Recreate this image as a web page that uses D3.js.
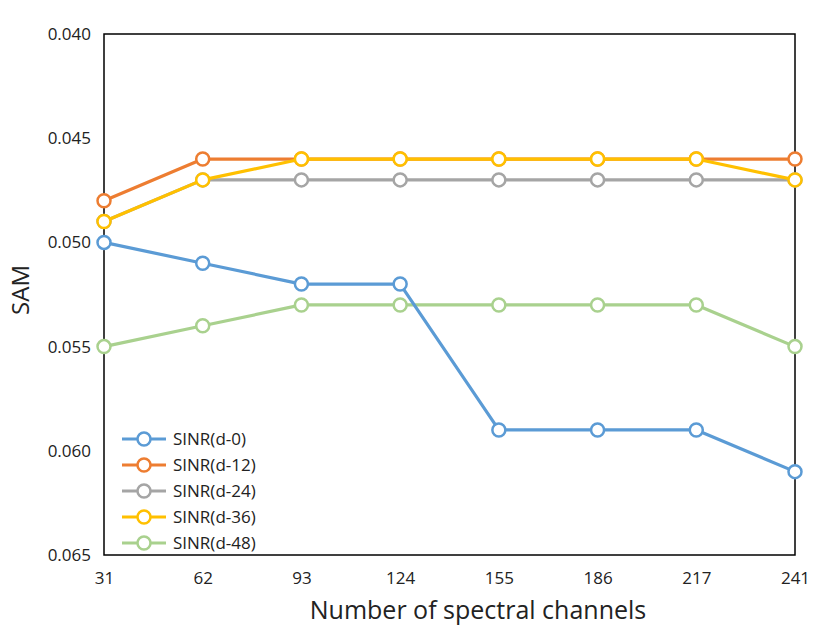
<!DOCTYPE html>
<html><head><meta charset="utf-8">
<script src="https://cdn.jsdelivr.net/npm/d3@7"></script>
<style>body{margin:0;background:#fff}svg{display:block}text{font-family:"Open Sans","Liberation Sans",sans-serif;fill:#222}</style>
</head><body>
<svg id="c" width="831" height="641"></svg>
<script>
const channels = ["31","62","93","124","155","186","217","241"];
const yTicks = [0.040,0.045,0.050,0.055,0.060,0.065];
const seriesNames = ["SINR(d-0)","SINR(d-12)","SINR(d-24)","SINR(d-36)","SINR(d-48)"];
const seriesColors = ["#5b9bd5","#ed7d31","#a5a5a5","#ffc000","#a9d18e"];
const d0  = [0.050,0.051,0.052,0.052,0.059,0.059,0.059,0.061];
const d12 = [0.048,0.046,0.046,0.046,0.046,0.046,0.046,0.046];
const d24 = [0.049,0.047,0.047,0.047,0.047,0.047,0.047,0.047];
const d36 = [0.049,0.047,0.046,0.046,0.046,0.046,0.046,0.047];
const d48 = [0.055,0.054,0.053,0.053,0.053,0.053,0.053,0.055];
const seriesValues = [d0,d12,d24,d36,d48];
const drawOrder = [4,0,1,2,3];

const svg = d3.select("#c");
const L=104,R=795,T=34,B=555;
const x = d3.scalePoint().domain(channels).range([L,R]).padding(0);
const y = d3.scaleLinear().domain([0.040,0.065]).range([T,B]);

svg.append("rect").attr("x",L).attr("y",T).attr("width",R-L).attr("height",B-T)
  .attr("fill","none").attr("stroke","#000").attr("stroke-width",1.5);

const ya = svg.append("g").attr("transform",`translate(${L},0)`)
  .call(d3.axisLeft(y).tickValues(yTicks).tickFormat(d3.format(".3f")).tickSize(0).tickPadding(13));
ya.select(".domain").remove();
ya.attr("font-size",null).attr("font-family",null);
ya.selectAll("text").attr("font-size",17).attr("fill","#222");

const xa = svg.append("g").attr("transform",`translate(0,${B})`)
  .call(d3.axisBottom(x).tickSize(0).tickPadding(17));
xa.select(".domain").remove();
xa.attr("font-size",null).attr("font-family",null);
xa.selectAll("text").attr("font-size",17).attr("fill","#222");

svg.append("text").attr("x",478).attr("y",619).attr("text-anchor","middle").attr("font-size",25).text("Number of spectral channels");
svg.append("text").attr("transform","translate(29,290) rotate(-90)").attr("text-anchor","middle").attr("font-size",24).text("SAM");

const line = d3.line().x((d,i)=>x(channels[i])).y(d=>y(d));
drawOrder.forEach(k=>{
  const g = svg.append("g");
  g.append("path").datum(seriesValues[k]).attr("d",line).attr("fill","none")
    .attr("stroke",seriesColors[k]).attr("stroke-width",3.2).attr("stroke-linejoin","round");
  g.selectAll("circle").data(seriesValues[k]).join("circle")
    .attr("cx",(d,i)=>x(channels[i])).attr("cy",d=>y(d)).attr("r",6.5)
    .attr("fill","#fff").attr("stroke",seriesColors[k]).attr("stroke-width",2.5);
});

const lg = svg.append("g");
seriesNames.forEach((n,i)=>{
  const yy = 439 + i*26;
  lg.append("line").attr("x1",122).attr("x2",166).attr("y1",yy).attr("y2",yy)
    .attr("stroke",seriesColors[i]).attr("stroke-width",3.2);
  lg.append("circle").attr("cx",144).attr("cy",yy).attr("r",6.5).attr("fill","#fff")
    .attr("stroke",seriesColors[i]).attr("stroke-width",2.5);
  lg.append("text").attr("x",173).attr("y",yy).attr("dy","0.36em").attr("font-size",17).text(n);
});
</script>
</body></html>
